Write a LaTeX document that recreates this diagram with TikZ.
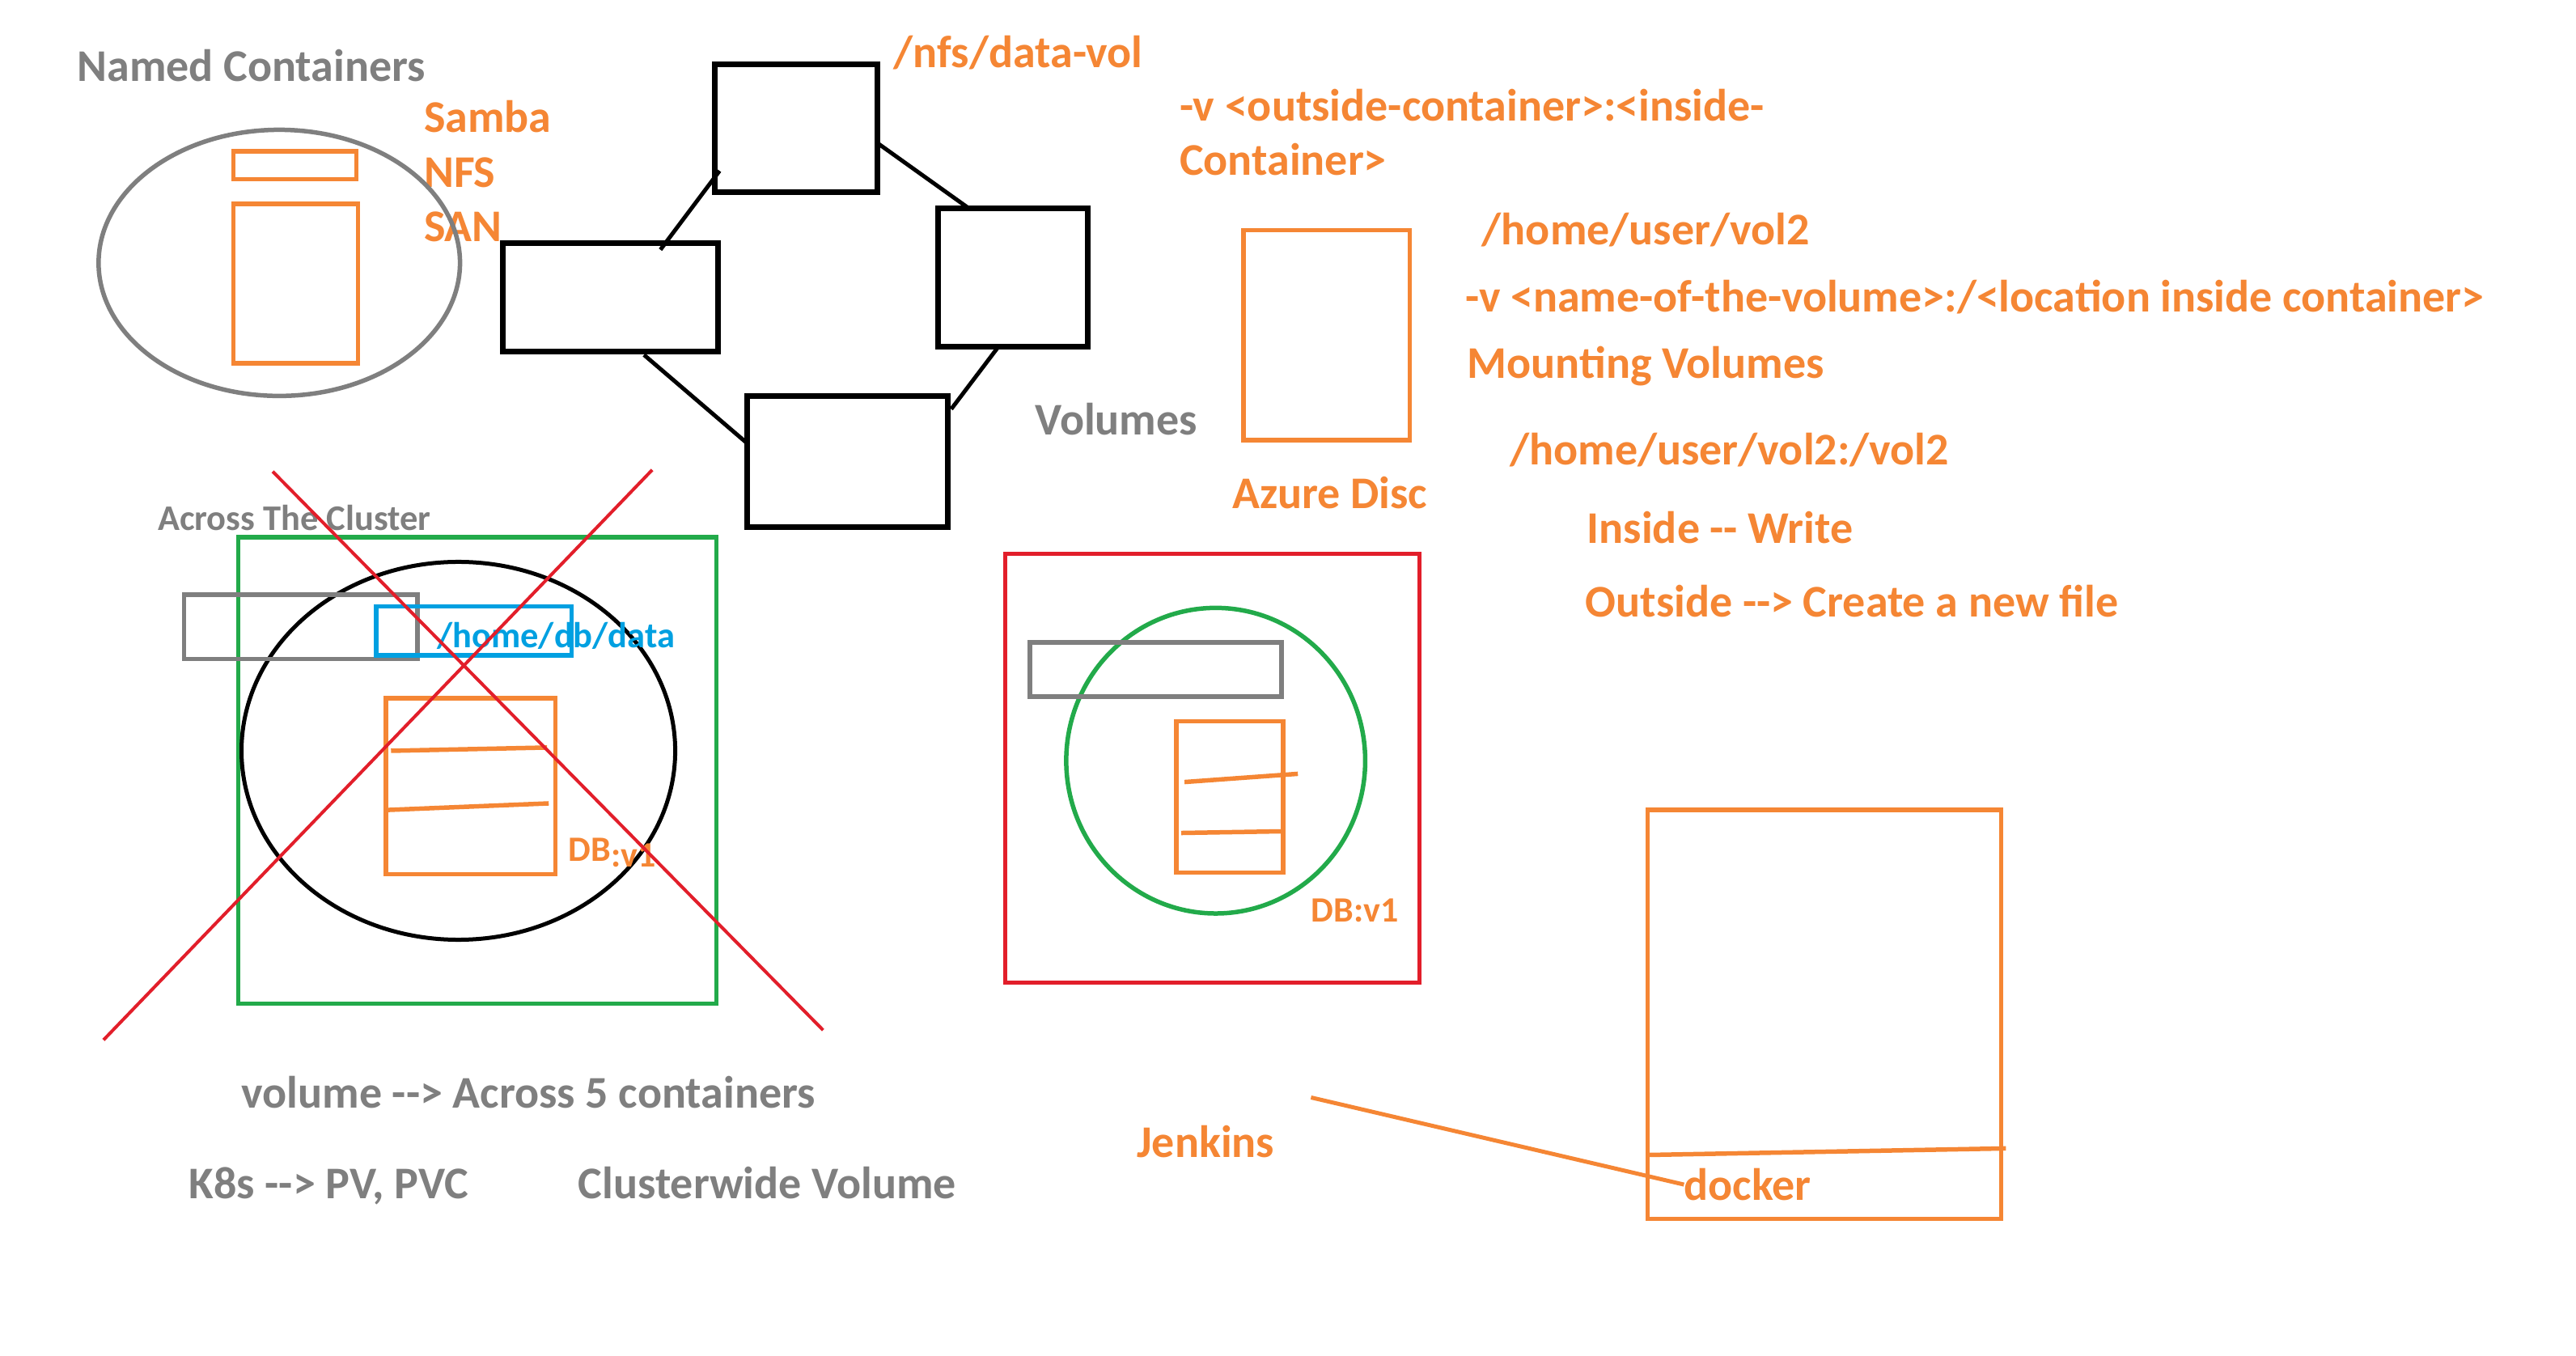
\documentclass[tikz,border=0pt]{standalone}
\usepackage{fontspec}
\setmainfont{Carlito}
\definecolor{cor}{RGB}{245,134,52}
\definecolor{cgr}{RGB}{127,127,127}
\definecolor{cred}{RGB}{226,30,42}
\definecolor{cgrn}{RGB}{34,170,74}
\definecolor{cblu}{RGB}{0,160,225}
\tikzset{
  big/.style={inner sep=0pt, anchor=west, font=\bfseries\fontsize{56}{66}\selectfont},
  small/.style={inner sep=0pt, anchor=west, font=\bfseries\fontsize{44.5}{52}\selectfont},
  tiny/.style={inner sep=0pt, anchor=west, font=\bfseries\fontsize{44}{52}\selectfont},
  orl/.style={draw=cor, line width=5.5pt},
  grl/.style={draw=cgr, line width=5.5pt},
  bkl/.style={draw=black, line width=7pt},
  rdl/.style={draw=cred, line width=5.5pt},
  gnl/.style={draw=cgrn, line width=5.5pt},
  bll/.style={draw=cblu, line width=5.5pt},
}
\begin{document}
\begin{tikzpicture}[x=2.0306pt,y=-2.0306pt]
\useasboundingbox[fill=white] (0,0) rectangle (1568,825);

% ---- Named containers
\node[big,text=cgr] (named) at (47,40) {Named Containers};
\node[big,text=cor] (samba) at (258,71) {Samba};
\node[big,text=cor] (nfs) at (258,105) {NFS};
\node[big,text=cor] (san) at (258,138) {SAN};
\draw[grl] (170,160) ellipse [x radius=110, y radius=81];
\draw[orl] (142,92) rectangle (217,109);
\draw[orl] (142,124) rectangle (218,221);

% ---- black boxes
\draw[bkl] (435,39) rectangle (534,117);
\draw[bkl] (306,148) rectangle (437,214);
\draw[bkl] (571,127) rectangle (662,211);
\draw[bkl] (455,241) rectangle (577,321);
\coordinate (t1) at (438,104); \coordinate (l1) at (402,152);
\coordinate (t2) at (534,87);  \coordinate (r1) at (590,127);
\coordinate (l2) at (392,216); \coordinate (b1) at (455,270);
\coordinate (r2) at (607,212); \coordinate (b2) at (579,249);
\draw[black,line width=5pt] (t1) -- (l1);
\draw[black,line width=5pt] (t2) -- (r1);
\draw[black,line width=5pt] (l2) -- (b1);
\draw[black,line width=5pt] (r2) -- (b2);
\node[big,text=cor] (nfsvol) at (544,32) {/nfs/data-vol};
\node[big,text=cgr] (volumes) at (630,255) {Volumes};

% ---- right texts
\node[big,text=cor] (v1a) at (718,64) {-v <outside-container>:<inside-};
\node[big,text=cor] (v1b) at (718,97) {Container>};
\draw[orl] (757,140) rectangle (858,268);
\node[big,text=cor] (azure) at (750,300) {Azure Disc};
\node[big,text=cor] (hv2) at (902,140) {/home/user/vol2};
\node[big,text=cor] (v2) at (892,181) {-v <name-of-the-volume>:/<location inside container>};
\node[big,text=cor] (mount) at (893,223) {Mounting Volumes};
\node[big,text=cor] (hv3) at (919,274) {/home/user/vol2:/vol2};
\node[big,text=cor] (inside) at (966,321) {Inside -{}- Write};
\node[big,text=cor] (outside) at (965,366) {Outside -{}->{} Create a new file};

% ---- across the cluster
\node[small,text=cgr] (across) at (96,315) {Across The Cluster};
\draw[gnl] (145,327) rectangle (436,611);
\draw[black,line width=5pt] (279,457) ellipse [x radius=132, y radius=115];
\draw[grl] (112,362) rectangle (254,401);
\draw[bll] (229,369) rectangle (348,399);
\node[small,text=cblu] (dbdata) at (266,387) {/home/db/data};
\draw[orl] (235,425) rectangle (338,532);
\draw[orl] (238,457) -- (333,455);
\draw[orl] (236,493) -- (334,489);
\node[tiny,text=cor] (db1) at (346,519) {DB\raisebox{-7pt}{:v1}};
\draw[rdl,line width=4pt] (166,287) -- (501,627);
\draw[rdl,line width=4pt] (397,286) -- (63,633);
\node[big,text=cgr] (vol5) at (147,665) {volume -{}->{} Across 5 containers};
\node[big,text=cgr] (k8s) at (115,722) {K8s -{}->{} PV, PVC};
\node[big,text=cgr] (cw) at (352,720) {Clusterwide Volume};

% ---- middle box
\draw[rdl] (612,337) rectangle (864,598);
\draw[gnl] (740,463) ellipse [x radius=91, y radius=93];
\draw[grl] (627,391) rectangle (780,424);
\draw[orl] (716,439) rectangle (781,531);
\draw[orl] (721,476) -- (790,471);
\draw[orl] (719,507) -- (780,506);
\node[tiny,text=cor] (db2) at (798,554) {DB:v1};

% ---- jenkins / docker
\node[big,text=cor] (jenkins) at (692,695) {Jenkins};
\draw[orl] (1003,493) rectangle (1218,742);
\draw[orl] (1003,703) -- (1221,699);
\node[big,text=cor] (docker) at (1025,721) {docker};
\coordinate (jl) at (798,668);
\draw[orl,line width=5pt] (jl) -- (docker.west);
\end{tikzpicture}
\end{document}
